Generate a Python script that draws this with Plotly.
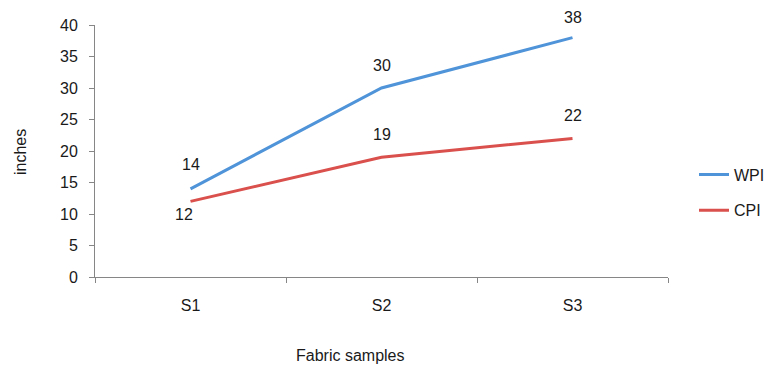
import plotly.graph_objects as go

categories = ["S1", "S2", "S3"]
wpi = [14, 30, 38]
cpi = [12, 19, 22]
y_ticks = [0, 5, 10, 15, 20, 25, 30, 35, 40]

blue = "#4F93D8"
red = "#D9504C"
font = "Liberation Sans, Arial, sans-serif"
txt = "#1a1a1a"

fig = go.Figure()
fig.add_trace(go.Scatter(x=categories, y=wpi, mode="lines", name="WPI", legendgroup="a",
                         line=dict(color=blue, width=3)))
fig.add_trace(go.Scatter(x=categories, y=cpi, mode="lines", name="CPI", legendgroup="b",
                         line=dict(color=red, width=3)))

# data labels
wpi_shift = [(0, 24), (0, 23), (0, 20)]
cpi_shift = [(-7, -13), (0, 23), (0, 23)]
for c, v, (dx, dy) in zip(categories, wpi, wpi_shift):
    fig.add_annotation(x=c, y=v, text=str(v), showarrow=False, xshift=dx, yshift=dy,
                       font=dict(family=font, size=16, color=txt))
for c, v, (dx, dy) in zip(categories, cpi, cpi_shift):
    fig.add_annotation(x=c, y=v, text=str(v), showarrow=False, xshift=dx, yshift=dy,
                       font=dict(family=font, size=16, color=txt))

# axis titles
fig.add_annotation(xref="paper", yref="paper", x=(350 - 95) / 573, y=-(355 - 277) / 252,
                   text="Fabric samples", showarrow=False, xanchor="center", yanchor="middle",
                   font=dict(family=font, size=16, color=txt))
fig.add_annotation(xref="paper", yref="paper", x=(20 - 95) / 573, y=(277 - 152) / 252,
                   text="inches", showarrow=False, textangle=-90, xanchor="center",
                   yanchor="middle", font=dict(family=font, size=16, color=txt))

fig.update_layout(
    width=776, height=365,
    margin=dict(l=95, r=108, t=25, b=88, autoexpand=False),
    plot_bgcolor="white", paper_bgcolor="white",
    font=dict(family=font, size=16, color=txt),
    showlegend=True,
    legend=dict(x=694 / 776, y=1 - 192.5 / 365, xanchor="left", yanchor="middle",
                xref="container", yref="container",
                font=dict(family=font, size=16, color=txt), tracegroupgap=12,
                bgcolor="rgba(0,0,0,0)"),
    xaxis=dict(range=[-0.5, 2.5], showline=True, linecolor="#868686", linewidth=1,
               ticks="outside", tickson="boundaries", ticklen=5, tickcolor="#868686",
               showgrid=False, zeroline=False, ticklabelstandoff=14,
               tickfont=dict(size=16, color=txt)),
    yaxis=dict(range=[0, 40], tickvals=y_ticks, showline=True, linecolor="#868686",
               linewidth=1, ticks="outside", ticklen=5, tickcolor="#868686",
               showgrid=False, zeroline=False, ticklabelstandoff=8,
               tickfont=dict(size=16, color=txt)),
)

fig.write_html("out.html")
